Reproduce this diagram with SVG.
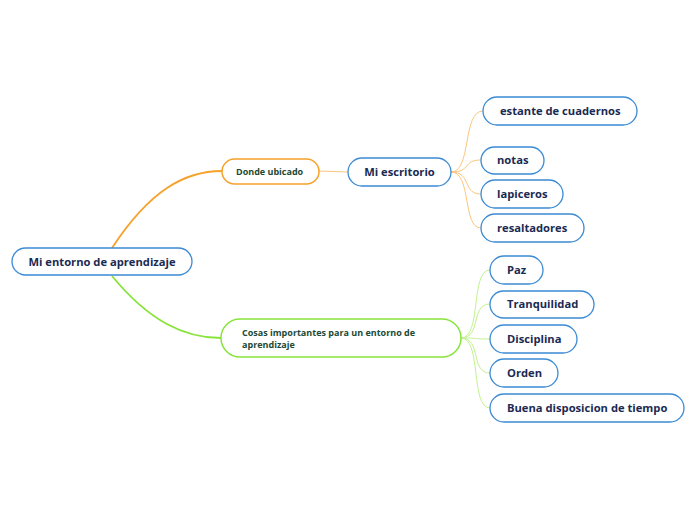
<svg xmlns="http://www.w3.org/2000/svg" width="696" height="520" viewBox="0 0 696 520">
<style>
.n{fill:#fff;stroke:#3b8ad4;stroke-width:1.3}
.t{font-family:"Open Sans","Noto Sans",sans-serif;font-weight:bold;font-size:11.2px;fill:#1b2a52}
.s{font-family:"Open Sans","Noto Sans",sans-serif;font-weight:bold;font-size:9px;fill:#1c4a35}
.c{fill:none}
</style>
<rect width="696" height="520" fill="#fff"/>
<g id="connectors" class="c">
<path d="M112,248 C150,190 185,171 222,171" stroke="#f7a12a" stroke-width="1.8"/>
<path d="M112,276 C150,322 185,338 221,338" stroke="#88e43a" stroke-width="1.8"/>
<path d="M319,171 L348,172" stroke="#fcc67e" stroke-width="1"/>
<g stroke="#fcc67e" stroke-width="1">
<path d="M451,172 C472,172 462,111 483,111"/>
<path d="M451,172 C472,172 462,160 481,160"/>
<path d="M451,172 C472,172 462,194 481,194"/>
<path d="M451,172 C472,172 462,228 481,228"/>
</g>
<g stroke="#c2f28e" stroke-width="1">
<path d="M461,338 C482,338 470,270 490,270"/>
<path d="M461,338 C482,338 470,304 490,304"/>
<path d="M461,338 C482,338 470,339 490,339"/>
<path d="M461,338 C482,338 470,373 490,373"/>
<path d="M461,338 C482,338 470,408 490,408"/>
</g>
</g>
<g id="root">
<rect x="12" y="248" width="180" height="27" rx="13.5" class="n" stroke-width="1.6"/>
<text x="102" y="266" text-anchor="middle" class="t" font-size="11.8">Mi entorno de aprendizaje</text>
</g>
<g id="donde">
<rect x="222" y="159" width="97" height="25" rx="12.5" fill="#fff" stroke="#f7a12a" stroke-width="1.5"/>
<text x="236" y="174.5" class="s">Donde ubicado</text>
</g>
<g id="cosas">
<rect x="221" y="319" width="240" height="38" rx="19" fill="#fff" stroke="#88e43a" stroke-width="1.5"/>
<text x="242" y="335.5" class="s">Cosas importantes para un entorno de</text>
<text x="242" y="347.5" class="s">aprendizaje</text>
</g>
<g id="escritorio">
<rect x="348" y="158" width="103" height="28" rx="14" class="n"/>
<text x="399.5" y="176" text-anchor="middle" class="t">Mi escritorio</text>
</g>
<g id="estante">
<rect x="483" y="97" width="154" height="28" rx="14" class="n"/>
<text x="500" y="115" class="t">estante de cuadernos</text>
</g>
<g id="notas">
<rect x="481" y="147" width="63" height="27" rx="13.5" class="n"/>
<text x="497" y="164" class="t">notas</text>
</g>
<g id="lapiceros">
<rect x="481" y="180" width="82" height="28" rx="14" class="n"/>
<text x="497" y="198" class="t">lapiceros</text>
</g>
<g id="resaltadores">
<rect x="481" y="214" width="103" height="28" rx="14" class="n"/>
<text x="497" y="232" class="t">resaltadores</text>
</g>
<g id="paz">
<rect x="490" y="256" width="53" height="28" rx="14" class="n"/>
<text x="507" y="274" class="t">Paz</text>
</g>
<g id="tranquilidad">
<rect x="490" y="291" width="104" height="27" rx="13.5" class="n"/>
<text x="507" y="308" class="t">Tranquilidad</text>
</g>
<g id="disciplina">
<rect x="490" y="325" width="87" height="28" rx="14" class="n"/>
<text x="507" y="343" class="t">Disciplina</text>
</g>
<g id="orden">
<rect x="490" y="359" width="68" height="28" rx="14" class="n"/>
<text x="507" y="377" class="t">Orden</text>
</g>
<g id="buena">
<rect x="490" y="394" width="194" height="28" rx="14" class="n"/>
<text x="507" y="412" class="t">Buena disposicion de tiempo</text>
</g>
</svg>
